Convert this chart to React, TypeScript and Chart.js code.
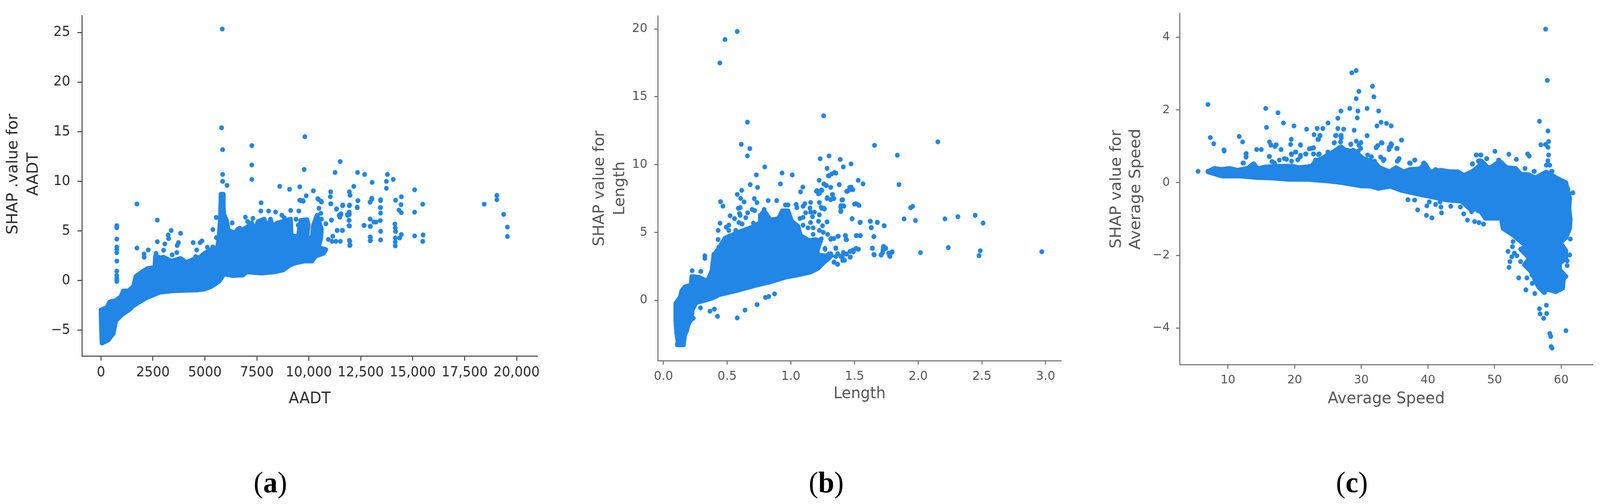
import React, { useEffect, useRef } from "react";
import { Chart, registerables } from "chart.js";

Chart.register(...registerables);

type P = [number, number];

const BLUE = "#2186E6";
const REF_WIDTH = 4237;

// Tick values and labels
const ticksAX = [0, 2500, 5000, 7500, 10000, 12500, 15000, 17500, 20000];
const labelsAX = ["0", "2500", "5000", "7500", "10,000", "12,500", "15,000", "17,500", "20,000"];
const ticksAY = [-5, 0, 5, 10, 15, 20, 25];
const ticksBX = [0, 0.5, 1, 1.5, 2, 2.5, 3];
const labelsBX = ["0.0", "0.5", "1.0", "1.5", "2.0", "2.5", "3.0"];
const ticksBY = [0, 5, 10, 15, 20];
const ticksCX = [10, 20, 30, 40, 50, 60];
const ticksCY = [-4, -2, 0, 2, 4];

// The overplotted mass of each panel cannot be resolved into single samples,
// so its outline is read off the picture and drawn as a filled scatter shape.
const massA: P[] = [
  [47, -6.3], [17, -4.57], [0, -2.96], [289, -2.71], [410, -2.16], [725, -2], [955, -1.62], [1076, -1.04], [1318, -1.04],
  [1560, -0.59], [1681, 0.43], [1984, 0.88], [2226, 1.2], [2589, 1.33], [2620, 2.48], [2831, 2.29], [3013, 2.36], [3376, 1.97],
  [3830, 2.23], [4103, 1.84], [4405, 2.1], [4768, 2.36], [4980, 2.74], [5374, 3.19], [5616, 3.38], [5677, 4.41], [5737, 6.07],
  [5768, 7.87], [5772, 8.7], [5889, 8.7], [5889, 7.48], [5919, 6.65], [6040, 6.07], [6131, 5.05], [6433, 4.8], [6585, 5.18],
  [6766, 5.05], [7069, 5.43], [7251, 5.82], [7402, 4.92], [7553, 5.95], [7856, 6.2], [7977, 5.18], [8158, 6.2], [8280, 5.18],
  [8431, 5.75], [9127, 6.2], [9157, 4.54], [9490, 4.41], [9611, 6.07], [9914, 6.14], [9974, 5.69], [9914, 4.41], [10156, 4.15],
  [10217, 5.56], [10398, 6.59], [10610, 5.18], [10580, 4.28], [10459, 3.32], [10822, 3.13], [10701, 2.74], [10338, 2.49],
  [10156, 1.97], [9793, 1.97], [9490, 1.84], [9248, 1.72], [9006, 1.46], [8764, 1.07], [8340, 0.88], [7735, 0.76], [7008, 0.88],
  [6827, 0.56], [6343, 0.5], [5919, 0.69], [5767, 0.18], [5676, -0.08], [5313, -0.59], [4950, -0.87], [4587, -0.95], [3981, -0.98],
  [3376, -1.04], [2831, -1.17], [2529, -1.43], [2166, -1.75], [1863, -2.13], [1560, -2.52], [1379, -2.9], [1015, -3.41], [713, -4.05],
  [652, -4.69], [592, -5.33], [350, -5.98], [47, -6.3],
];

const pointsA: P[] = [
  [5837, 25.35], [5804, 15.4], [5853, 13.2], [5853, 10.7], [5853, 10], [6066, 9.6], [9810, 14.5], [9777, 11.2], [7259, 13.6], [7259, 11.65],
  [7259, 10.2], [11510, 12], [11265, 10.9], [12344, 10.9], [12688, 10.7], [13047, 9.9], [13783, 10.7], [13734, 10], [13734, 9.3], [14061, 10.2],
  [15091, 9.15], [12164, 9.5], [11952, 8.95], [11985, 8.6], [8600, 9.5], [9074, 9.2], [9565, 9.45], [10219, 9.05], [11053, 8.95], [11036, 8.45],
  [9875, 8.55], [9565, 8.1], [9728, 8.05], [10431, 8.25], [10595, 8], [11053, 7.75], [11625, 7.55], [11331, 7.2], [11952, 7.55], [12360, 8.05],
  [12328, 7.4], [13030, 8.3], [12950, 7.9], [13456, 8.15], [13440, 7.35], [13456, 6.8], [13440, 6.05], [13456, 4.97], [13456, 4.1], [14175, 8.1],
  [14454, 8.45], [14437, 7.65], [14340, 7.1], [14454, 6.85], [15091, 6.9], [15483, 7.7], [15091, 4.5], [15500, 4.6], [15483, 3.95], [14143, 5.7],
  [14160, 5.3], [14175, 4.97], [14160, 4.3], [14160, 3.9], [14160, 3.5], [14372, 4.3], [14454, 4.65], [12950, 6.2], [13230, 5.9], [12655, 5.57],
  [12966, 5.47], [12966, 4.37], [12966, 4.05], [18440, 7.7], [19050, 8.58], [19050, 8.15], [19375, 6.68], [19555, 5.4], [19555, 4.45], [11952, 4.05],
  [11985, 3.57], [11952, 6.68], [11870, 6.58], [11935, 6.08], [11935, 5.54], [11543, 6.74], [11461, 6.58], [11085, 6.1], [11625, 5.06], [11364, 5.06],
  [761, 5.54], [761, 5.33], [761, 4.18], [761, 3.38], [761, 3.13], [761, 2.81], [761, 1.97], [761, 0.95], [761, 0.5], [761, 0.24], [761, 0.05], [761, -0.08],
  [1730, 7.72], [1730, 3.28], [2710, 6.1], [2710, 3.92], [3376, 5.05], [3830, 4.77], [3237, 4.6], [3255, 4.24], [3073, 3.7], [3727, 3.83], [3667, 3.54],
  [3649, 2.83], [3013, 3.06], [2275, 3.09], [2075, 2.68], [2075, 2.36], [4435, 3.83], [4859, 4], [4768, 3.83], [4605, 3.09], [4556, 2.42], [5119, 3.36],
  [5374, 3.38], [5386, 5.14], [5555, 4.34], [5543, 6.36], [3424, 2.6], [2650, 2.74],
  [7705, 7.84], [7692, 7.01], [8068, 7.01], [8401, 6.91], [9127, 7.07], [9520, 7.01], [8703, 6.59], [8824, 6.33], [6948, 6.4], [7311, 6.27], [6312, 5.82],
  [7057, 5.95], [6676, 5.28], [9387, 6.18], [9490, 5.59], [10822, 5.73], [11094, 6.1], [10489, 7.29], [10580, 6.78], [10610, 6.2], [11366, 5.05], [11609, 5.05],
  [11155, 4.47], [10943, 4.15], [11124, 3.96], [11306, 3.96], [11518, 3.96], [11972, 3.96], [11972, 3.54], [11960, 5.5], [11942, 6.07], [11851, 6.65], [11942, 6.9],
  [11488, 6.4], [11548, 6.65], [11064, 7.74], [11336, 7.23], [11639, 7.61], [11960, 7.61], [12335, 7.36], [12365, 8.06], [12668, 5.56], [12953, 6.2], [13134, 5.9],
  [12953, 5.47], [12953, 4.4], [12953, 4.02], [13455, 8.06], [13455, 7.36], [12953, 7.93], [13030, 8.2], [9611, 8.06], [9732, 8], [10459, 8.19], [10610, 7.93],
];

const massB: P[] = [
  [0.108, -3.29], [0.157, -3.29], [0.167, -2.57], [0.182, -2.24], [0.192, -1.85], [0.217, -1.37], [0.227, -0.7], [0.256, -0.17], [0.335, 0.02], [0.395, 0.21],
  [0.434, 0.4], [0.563, 0.69], [0.711, 1.07], [0.839, 1.36], [0.958, 1.7], [1.066, 1.89], [1.155, 2.08], [1.215, 2.37], [1.254, 2.75], [1.313, 3.23], [1.215, 3.33],
  [1.205, 3.62], [1.234, 4.38], [1.185, 4.48], [1.145, 4.38], [1.076, 4.77], [1.057, 5.44], [1.007, 5.82], [0.978, 6.59], [0.933, 6.59], [0.903, 6.02], [0.839, 5.92],
  [0.79, 6.59], [0.76, 6.21], [0.76, 5.73], [0.711, 5.44], [0.602, 5.06], [0.483, 4.58], [0.434, 3.81], [0.395, 3.33], [0.38, 2.18], [0.345, 1.41], [0.276, 1.7],
  [0.222, 1.75], [0.217, 1.12], [0.167, 0.98], [0.143, 0.69], [0.133, 0.26], [0.098, -0.22], [0.096, -1.47], [0.103, -2.43], [0.113, -3], [0.108, -3.29],
];

const pointsB: P[] = [
  [0.579, 19.81], [0.483, 19.22], [0.443, 17.49], [0.659, 13.13], [1.257, 13.6], [0.611, 11.49], [0.678, 11.18], [0.659, 10.64], [2.154, 11.68], [1.657, 11.42],
  [1.836, 10.69], [1.3, 10.64], [1.23, 10.43], [1.388, 10.38], [1.473, 10.05], [1.412, 9.83], [0.795, 9.83], [1.284, 9.72], [0.931, 9.38], [1.011, 9.24], [0.729, 9.24],
  [1.342, 9.41], [1.321, 9.31], [1.3, 9.17], [1.222, 8.84], [1.529, 8.84], [1.567, 8.58], [1.849, 8.53], [1.26, 8.58], [0.918, 8.58], [0.681, 8.53], [0.739, 8.32],
  [1.094, 8.34], [1.076, 7.99], [1.313, 8.32], [1.38, 8.53], [1.244, 8.1], [1.201, 8.03], [1.225, 7.91], [1.473, 8.34], [1.455, 8.1], [1.438, 8.03], [1.487, 8.15],
  [0.614, 8.1], [0.579, 7.8], [0.606, 7.51], [0.633, 7.25], [0.448, 7.27], [0.467, 6.94], [0.713, 7.49], [0.734, 7.2], [0.822, 7.35], [0.889, 7.35], [1.401, 7.39],
  [1.326, 7.8], [1.286, 7.56], [1.332, 7.51], [1.5, 7.09], [1.529, 7.04], [1.94, 6.82], [1.956, 6.92], [1.393, 6.97], [1.412, 6.97], [1.393, 6.61], [1.26, 6.78],
  [1.238, 6.85], [1.889, 6], [1.978, 5.88], [2.21, 6], [2.311, 6.16], [2.447, 6.26], [2.509, 5.69], [1.623, 5.83], [1.679, 5.73], [1.631, 5.36], [1.732, 5.5],
  [1.481, 6], [1.543, 5.73], [1.652, 4.69], [1.513, 4.76], [1.545, 4.76], [1.43, 4.76], [1.369, 4.72], [1.433, 4.48], [1.318, 4.55], [1.655, 3.34], [1.639, 3.84],
  [2.236, 3.89], [2.018, 3.51], [2.487, 3.65], [2.477, 3.29], [2.97, 3.58], [1.708, 3.34], [1.727, 3.93], [1.721, 3.53], [1.745, 3.82], [1.775, 3.29], [1.796, 3.58],
  [1.78, 3.48], [1.513, 3.82], [1.487, 3.7], [1.465, 3.6], [1.438, 3.41], [1.465, 3.18], [1.407, 3.29], [1.407, 2.94], [1.366, 2.65], [1.34, 2.82], [1.353, 3.82],
  [1.3, 3.41], [1.318, 3.29], [1.268, 3.82], [1.246, 3.18],
  [0.291, -0.56], [0.365, -0.8], [0.4, -0.65], [0.424, -1.18], [0.579, -1.3], [0.64, -0.72], [0.735, -0.32], [0.8, 0.21], [0.827, 0.28], [0.872, 0.47],
  [0.325, 3.28], [0.325, 3.09], [0.293, 2.13], [0.225, 2.18], [0.234, -1.32], [0.217, -1.44],
  [0.587, 6.78], [0.602, 6.83], [0.597, 6.4], [0.602, 6.26], [0.661, 6.45], [0.696, 6.69], [0.716, 6.61], [0.646, 6.09], [0.79, 6.69], [0.79, 6.4], [0.76, 6.26],
  [0.523, 6.23], [0.558, 6.02], [0.444, 5.68], [0.429, 5.15], [0.493, 5.39], [0.513, 5.54], [0.513, 5.15], [0.568, 5.15], [0.592, 5.73], [0.617, 5.63], [0.706, 5.68],
  [0.429, 4.48], [0.434, 3.9], [0.395, 3.38], [0.824, 6.03], [0.879, 5.87], [0.908, 6.02], [0.958, 7.02], [0.978, 7.02], [1.042, 7.07], [1.047, 6.83], [1.096, 6.93],
  [1.11, 7.12], [1.155, 7.21], [1.15, 6.8], [1.224, 7.2], [1.244, 6.78], [1.264, 6.73], [1.116, 6.45], [1.155, 6.5], [1.185, 6.5], [1.224, 6.3], [1.17, 6.16], [1.071, 6.03],
  [1.096, 6.11], [1.217, 5.82], [1.155, 5.73], [1.284, 5.78], [1.249, 5.49], [1.224, 5.15], [1.175, 4.86], [1.175, 5.34], [1.135, 5.34], [1.096, 5.54], [1.254, 5.01],
  [1.289, 4.86], [1.239, 4.53], [1.373, 4.72], [1.313, 4.5], [1.338, 4.55], [1.427, 4.77], [1.437, 4.48], [1.516, 4.77], [1.546, 4.77], [1.481, 6.02], [1.545, 5.75],
  [1.625, 5.82], [1.679, 5.75], [1.733, 5.49], [1.632, 5.34], [1.652, 4.69], [1.353, 3.86], [1.64, 3.84], [1.652, 3.38], [1.728, 3.97], [1.743, 3.86], [1.723, 3.71],
  [1.709, 3.33], [1.778, 3.23], [1.793, 3.52], [1.768, 3.47], [1.269, 3.76], [1.289, 3.33], [1.313, 3.43], [1.368, 3.43], [1.412, 3.52], [1.467, 3.62], [1.511, 3.81],
  [1.531, 3.76], [1.467, 3.19], [1.422, 2.95], [1.368, 2.66], [1.338, 2.8], [1.353, 3.23], [1.392, 3.23], [1.491, 3.57], [1.259, 8.56], [1.279, 8.46], [1.205, 8.08],
  [1.239, 8.13], [1.217, 7.84], [1.462, 8.32], [1.442, 8.03], [1.481, 8.17], [1.284, 7.5], [1.313, 7.41], [1.338, 7.5], [1.328, 7.79], [1.511, 7.12], [1.536, 6.99],
  [1.392, 6.54], [1.392, 6.88], [1.407, 7.41], [1.417, 6.93], [1.294, 9.18], [1.353, 9.37],
];

const massC: P[] = [
  [6.97, 0.3], [7.92, 0.39], [8.95, 0.36], [10.28, 0.39], [11.41, 0.34], [12.92, 0.39], [13.87, 0.52], [14.43, 0.38], [15.57, 0.43], [17.83, 0.45], [19.72, 0.45],
  [20.66, 0.41], [22.55, 0.45], [23.12, 0.59], [24.06, 0.66], [25.76, 0.84], [26.89, 0.98], [27.84, 0.87], [28.97, 0.87], [30.29, 0.66], [32, 0.55], [32.75, 0.41],
  [34.26, 0.3], [35.2, 0.41], [36.34, 0.3], [37.28, 0.36], [38.79, 0.38], [39.55, 0.52], [40.3, 0.3], [42, 0.34], [43.32, 0.3], [44.46, 0.3], [45.4, 0.2], [46.53, 0.29],
  [47.67, 0.45], [48.04, 0.59], [48.99, 0.41], [49.56, 0.43], [50.79, 0.59], [51.82, 0.41], [53.15, 0.39], [53.9, 0.23], [55.03, 0.22], [56.17, 0.13], [57.11, 0.23],
  [57.77, 0.29], [59.66, 0.09], [60.7, 0], [61.27, -0.44], [61.17, -0.73], [61.36, -1.01], [61.27, -1.26], [60.7, -1.51], [59.85, -1.65], [60.7, -1.87], [60.7, -2.08],
  [59.76, -2.22], [59.76, -2.4], [60.51, -2.54], [60.32, -2.68], [60.23, -2.9], [59.19, -3], [57.87, -2.93], [57.4, -3.02], [56.55, -2.86], [55.98, -2.65], [55.79, -2.51],
  [54.85, -2.33], [54.47, -2.26], [55.23, -2.08], [53.9, -1.83], [54.85, -1.76], [52.77, -1.44], [51.26, -1.26], [51.07, -1.08], [51.64, -0.98], [50.13, -0.98], [48.61, -0.98],
  [47.67, -0.73], [46.35, -0.73], [45.02, -0.51], [42.95, -0.48], [41.06, -0.41], [39.17, -0.34], [37.66, -0.28], [35.96, -0.21], [34.35, -0.1], [32.56, -0.16], [31.43, -0.1],
  [29.92, -0.09], [27.08, 0], [25.2, 0.04], [21.99, 0.09], [19.15, 0.09], [16.32, 0.13], [14.43, 0.14], [11.79, 0.18], [10.65, 0.18], [9.14, 0.18], [7.07, 0.29], [6.97, 0.3],
];

const pointsC: P[] = [
  [57.65, 4.22], [57.91, 2.81], [29.23, 3.08], [28.57, 3.02], [29.64, 2.51], [31.68, 2.65], [31.89, 2.36], [29.23, 2.31], [6.99, 2.15], [15.66, 2.04], [17.5, 1.92],
  [28.27, 2.04], [26.94, 1.97], [29.49, 1.97], [30.87, 2.04], [32.6, 1.97], [26.48, 1.77], [29.39, 1.78], [56.73, 1.69], [18.32, 1.64], [25, 1.64], [32.96, 1.66],
  [32.35, 1.56], [33.78, 1.63], [34.49, 1.56], [15.77, 1.52], [19.9, 1.56], [21.79, 1.47], [23.37, 1.49], [24.23, 1.49], [26.48, 1.49], [27.35, 1.47], [28.93, 1.44],
  [58.01, 1.42], [7.35, 1.24], [11.68, 1.27], [22.91, 1.32], [23.83, 1.29], [23.57, 1.19], [26.12, 1.29], [26.94, 1.27], [30.87, 1.29], [36.02, 1.17], [7.86, 1.07],
  [12.19, 1.12], [19.49, 1.19], [16.22, 1.12], [58.11, 1.13], [57.65, 1.05], [56.94, 1.04], [9.39, 0.9], [14.29, 0.91], [15, 0.91], [16.43, 1.03], [17.04, 0.99],
  [17.24, 1.04], [17.96, 0.91], [19.39, 1.05], [20.87, 1.04], [22.19, 0.93], [22.81, 0.95], [25.97, 1.1], [28.42, 1.05], [33, 1.1], [34.54, 1.05], [34.18, 0.97],
  [35.31, 0.94], [32.24, 0.97], [29.95, 1.1], [58.01, 0.97], [58.11, 0.76], [12.7, 0.79], [12.7, 0.7], [12.24, 0.54], [16.17, 0.72], [18.47, 0.66], [17.7, 0.62],
  [19.49, 0.79], [20.1, 0.84], [20.87, 0.75], [21.68, 0.79], [23.57, 0.77], [25, 0.84], [37.35, 0.53], [38.01, 0.62], [35.56, 0.62], [39.39, 0.53], [47.24, 0.76],
  [47.9, 0.76], [46.68, 0.51], [47.81, 0.6], [48.83, 0.66], [50.05, 0.86], [52.14, 0.78], [53.27, 0.64], [54.95, 0.79], [55.2, 0.73], [50.6, 0.62], [58, 0.6],
  [57.75, 0.48], [58.27, 0.48], [55.97, 0.31], [58.57, 0.31], [5.51, 0.31], [6.99, 0.31],
  [37, -0.47], [38, -0.48], [38.45, -0.75], [39.77, -0.9], [40.59, -0.97], [39.83, -0.64], [40.2, -0.53], [41.15, -0.6], [41.81, -0.53], [41.95, -0.67], [42.04, -0.83],
  [43.42, -0.65], [44.87, -0.67], [45.36, -0.86], [45.93, -1.03], [46.54, -0.8], [47.57, -0.78], [47, -1.07], [47.67, -1.1], [48.33, -1.14], [52.01, -1.89], [52.16, -2.33],
  [52.3, -2.17], [53.62, -2.62], [54.85, -2.62], [54.69, -2.95], [56.03, -3.05], [57.77, -3.37], [56.73, -3.47], [56.83, -3.61], [57.81, -3.6], [57.36, -3.73], [58.28, -4.15],
  [58.43, -4.23], [60.7, -4.07], [58.47, -4.51], [58.62, -4.55],
  [9.43, 0.87], [12.73, 0.8], [12.73, 0.71], [12.32, 0.54], [16.23, 0.72], [16.6, 0.58], [16.98, 0.54], [18.78, 0.64], [19.53, 0.59], [19.53, 0.77], [20.19, 0.84],
  [20.85, 0.71], [20.47, 0.63], [21.7, 0.79], [22.84, 0.79], [23.69, 0.79], [24.82, 0.75],
  [23.78, 1.3], [23.49, 1.19], [26.23, 1.3], [26.99, 1.3], [26.99, 1.23], [26.89, 1.12], [25.91, 1.09], [28.44, 1.06], [29.25, 1.14], [29.63, 1.03], [29.91, 0.94],
  [30.86, 1.29], [32.22, 0.96], [32.46, 1.02], [33.12, 1.09], [34.45, 1.07], [34.45, 1], [34.16, 0.91], [35.39, 0.94], [36.05, 1.17], [32.9, 0.7], [33.41, 0.64],
  [33.31, 0.61], [35.67, 0.66], [35.39, 0.59], [37.24, 0.54], [38.04, 0.62], [39.36, 0.54], [41.15, 0.36], [46.68, 0.52], [47.25, 0.76], [47.95, 0.76], [47.57, 0.59],
  [48.8, 0.66], [20.89, 1.03], [22.45, 0.94], [22.83, 0.96], [21.64, 0.79], [22.83, 0.79], [23.64, 0.79], [24.81, 0.73], [23.12, 0.62], [20.85, 0.71], [26.33, 0.86],
  [26.99, 0.98], [27.93, 0.89], [28.78, 0.89], [29.54, 0.86], [30.95, 0.76], [31.52, 0.71], [31.99, 0.59],
  [60.99, -0.18], [61.74, -0.28], [61.36, -1.55], [61.27, -1.99], [60.89, -2.28], [60.7, -2.58], [52.77, -1.62], [52.68, -1.76], [52.96, -1.94], [53.34, -2.01], [52.58, -2.04],
  [53.9, -2.17], [55.6, -2.54], [55.64, -2.77], [54.7, -2.95], [57.49, -3.02], [54.56, 0.39], [55.89, 0.31], [58.63, 0.31], [59.66, 0.09], [60.89, -2.15],
];

const toXY = (list: P[]) => list.map(([x, y]) => ({ x, y }));
const minus = (v: number) => String(v).replace("-", "\u2212");
const FONT = "'DejaVu Sans'";

function Panel(p: any) {
  const ref = useRef<HTMLCanvasElement>(null);
  useEffect(() => {
    const tickFont = { family: FONT, size: p.tickSize };
    const titleFont = { family: FONT, size: p.titleSize, lineHeight: p.titleLine };
    const chart = new Chart(ref.current!, {
      type: "scatter",
      data: {
        datasets: [
          {
            data: toXY(p.mass),
            showLine: true,
            fill: "shape",
            tension: 0,
            borderWidth: 12,
            borderJoinStyle: "round",
            borderCapStyle: "round",
            borderColor: BLUE,
            backgroundColor: BLUE,
            pointRadius: 0,
          },
          { data: toXY(p.points), backgroundColor: BLUE, borderWidth: 0, pointRadius: 6.3 },
        ],
      } as any,
      options: {
        animation: false,
        responsive: false,
        devicePixelRatio: 1,
        layout: { padding: { top: p.top, right: p.width - p.plotRight, left: 0, bottom: 0 } },
        plugins: { legend: { display: false }, tooltip: { enabled: false } },
        scales: {
          x: {
            type: "linear",
            min: p.xRange[0],
            max: p.xRange[1],
            afterFit: (s: any) => { s.height = p.height - p.plotBottom; },
            afterBuildTicks: (s: any) => { s.ticks = p.xTicks.map((value: number) => ({ value })); },
            grid: { display: true, drawOnChartArea: false, drawTicks: true, tickLength: p.tickLen, tickColor: p.axisColor, tickWidth: 2.5 },
            border: { display: true, color: p.axisColor, width: 2.5 },
            ticks: {
              autoSkip: false,
              maxRotation: 0,
              minRotation: 0,
              padding: p.xTickPad,
              color: p.textColor,
              font: tickFont,
              callback: (v: number) => (p.xLabels ? p.xLabels[p.xTicks.indexOf(v)] : String(v)),
            },
            title: { display: true, text: p.xTitle, color: p.textColor, font: titleFont, padding: { top: 0, bottom: p.xTitlePad } },
          },
          y: {
            type: "linear",
            min: p.yRange[0],
            max: p.yRange[1],
            afterFit: (s: any) => {
              s.width = p.plotLeft;
              if (p.titleShift && !s.__shifted) {
                s.__shifted = true;
                const base = Object.getPrototypeOf(s).drawTitle;
                s.drawTitle = function () {
                  const t = this.top, b = this.bottom;
                  this.top = t + p.titleShift;
                  this.bottom = b + p.titleShift;
                  base.call(this);
                  this.top = t;
                  this.bottom = b;
                };
              }
            },
            afterBuildTicks: (s: any) => { s.ticks = p.yTicks.map((value: number) => ({ value })); },
            grid: { display: true, drawOnChartArea: false, drawTicks: true, tickLength: p.tickLen, tickColor: p.axisColor, tickWidth: 2.5 },
            border: { display: true, color: p.axisColor, width: 2.5 },
            ticks: { autoSkip: false, padding: p.yTickPad, color: p.textColor, font: tickFont, callback: (v: number) => minus(v) },
            title: { display: true, text: p.yTitle, color: p.textColor, font: titleFont, padding: { top: p.yTitlePad, bottom: 0 } },
          },
        },
      } as any,
    });
    return () => chart.destroy();
  }, []);
  return (
    <canvas
      ref={ref}
      width={p.width}
      height={p.height}
      style={{ position: "absolute", left: p.left, top: 0, width: p.width, height: p.height }}
    />
  );
}

const panels = [
  {
    left: 0, width: 1440, height: 1100, plotLeft: 217, plotRight: 1424, top: 20, plotBottom: 912, tickLen: 12,
    xRange: [-915, 21000], yRange: [-7.6, 26.7], xTicks: ticksAX, xLabels: labelsAX, yTicks: ticksAY,
    mass: massA, points: pointsA, xTitle: "AADT", yTitle: ["SHAP .value for", "AADT"],
    tickSize: 35, titleSize: 40, titleLine: 1.35, xTickPad: 10, yTickPad: 19, xTitlePad: 50, yTitlePad: 9, titleShift: -30,
    textColor: "#2b2b2b", axisColor: "#3a3a3a",
  },
  {
    left: 1450, width: 1380, height: 1100, plotLeft: 292.5, plotRight: 1360, top: 41, plotBottom: 924, tickLen: 10,
    xRange: [-0.0427, 3.122], yRange: [-4.455, 20.95], xTicks: ticksBX, xLabels: labelsBX, yTicks: ticksBY,
    mass: massB, points: pointsB, xTitle: "Length", yTitle: ["SHAP value for", "Length"],
    tickSize: 32, titleSize: 40, titleLine: 1.35, xTickPad: 11, yTickPad: 18, xTitlePad: 63, yTitlePad: 112, titleShift: 0,
    textColor: "#555555", axisColor: "#666666",
  },
  {
    left: 2840, width: 1397, height: 1100, plotLeft: 284, plotRight: 1378, top: 30, plotBottom: 934.5, tickLen: 10,
    xRange: [2.755, 64.74], yRange: [-5.01, 4.65], xTicks: ticksCX, xLabels: null, yTicks: ticksCY,
    mass: massC, points: pointsC, xTitle: "Average Speed", yTitle: ["SHAP value for", "Average Speed"],
    tickSize: 31, titleSize: 41, titleLine: 1.25, xTickPad: 11, yTickPad: 16, xTitlePad: 52.5, yTitlePad: 91.5, titleShift: 0,
    textColor: "#555555", axisColor: "#666666",
  },
];

const captions = [
  { letter: "a", x: 716 },
  { letter: "b", x: 2188 },
  { letter: "c", x: 3580 },
];

export default function App() {
  // The browser window can be narrower than the reference, so the page is laid
  // out in the reference's coordinates and fitted to the available width.
  const fit = Math.min(1, document.documentElement.clientWidth / REF_WIDTH);
  return (
    <div
      style={{
        position: "absolute", left: 0, top: 0, width: REF_WIDTH, height: 1291, overflow: "hidden", background: "#fff",
        transform: `scaleX(${fit})`, transformOrigin: "0 0",
      }}
    >
      {panels.map((p, i) => <Panel key={i} {...p} />)}
      {captions.map((c) => (
        <div
          key={c.letter}
          style={{
            position: "absolute", left: c.x, top: 1235, transform: "translate(-50%,-50%)",
            fontFamily: "'Liberation Serif'", fontSize: 76, color: "#000", whiteSpace: "nowrap",
          }}
        >
          (<b>{c.letter}</b>)
        </div>
      ))}
    </div>
  );
}
